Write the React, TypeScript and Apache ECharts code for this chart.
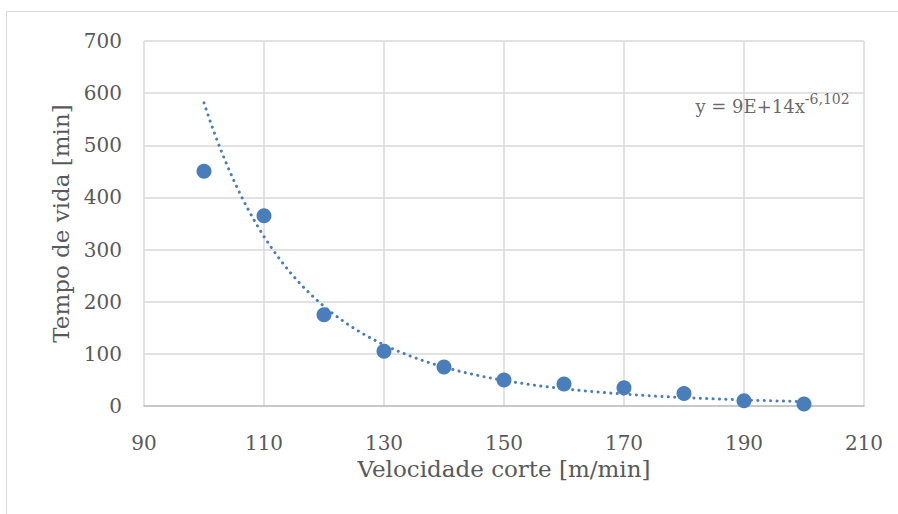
import React, { useEffect, useRef } from "react";
import * as echarts from "echarts";

// Cutting speed [m/min] and measured tool life [min]
const velocidade = [100, 110, 120, 130, 140, 150, 160, 170, 180, 190, 200];
const tempoVida = [450, 365, 175, 105, 75, 50, 42, 35, 24, 10, 4];

// Power trendline y = A * x^B (A shown rounded as 9E+14 in the label)
const trendA = 9.3e14;
const trendB = -6.102;
const trendLabel = "y = 9E+14x";
const trendExpLabel = "-6,102";

const xTicks = { min: 90, max: 210, interval: 20 };
const yTicks = { min: 0, max: 700, interval: 100 };

const FONT = "DejaVu Serif";
const BLUE = "#4a7ebb";

export default function App() {
  const ref = useRef<HTMLDivElement>(null);

  useEffect(() => {
    if (!ref.current) return;
    const chart = echarts.init(ref.current, undefined, { renderer: "svg" });

    const x0 = velocidade[0];
    const x1 = velocidade[velocidade.length - 1];
    const trend: [number, number][] = [];
    for (let x = x0; x <= x1; x += 0.5) {
      trend.push([x, trendA * Math.pow(x, trendB)]);
    }

    chart.setOption({
      animation: false,
      backgroundColor: "#ffffff",
      textStyle: { fontFamily: FONT },
      grid: { left: 144, right: 34, top: 41, bottom: 108 },
      graphic: [
        {
          type: "rect",
          shape: { x: 6.5, y: 11.5, width: 1000, height: 1000 },
          style: { fill: "none", stroke: "#d9d9d9", lineWidth: 1 },
          silent: true,
        },
      ],
      xAxis: {
        type: "value",
        min: xTicks.min,
        max: xTicks.max,
        interval: xTicks.interval,
        name: "Velocidade corte [m/min]",
        nameLocation: "middle",
        nameGap: 49,
        nameTextStyle: { fontFamily: FONT, fontSize: 23, color: "#595959" },
        axisLine: { show: true, lineStyle: { color: "#bfbfbf", width: 1.5 } },
        axisTick: { show: false },
        axisLabel: { fontFamily: FONT, fontSize: 20, color: "#595959", margin: 27 },
        splitLine: { show: true, lineStyle: { color: "#d9d9d9", width: 1.5 } },
      },
      yAxis: {
        type: "value",
        min: yTicks.min,
        max: yTicks.max,
        interval: yTicks.interval,
        name: "Tempo de vida [min]",
        nameLocation: "middle",
        nameGap: 70,
        nameTextStyle: { fontFamily: FONT, fontSize: 23, color: "#595959" },
        axisLine: { show: false },
        axisTick: { show: false },
        axisLabel: { fontFamily: FONT, fontSize: 20, color: "#595959", margin: 22 },
        splitLine: { show: true, lineStyle: { color: "#d9d9d9", width: 1.5 } },
      },
      series: [
        {
          type: "line",
          data: trend,
          showSymbol: false,
          symbol: "none",
          smooth: false,
          lineStyle: { color: BLUE, width: 3, type: [0.1, 6.3], cap: "round" },
          z: 2,
          silent: true,
        },
        {
          type: "scatter",
          data: velocidade.map((v, i) => [v, tempoVida[i]]),
          symbol: "circle",
          symbolSize: 15,
          itemStyle: { color: BLUE, opacity: 1 },
          z: 3,
        },
        {
          type: "scatter",
          data: [[194.75, 580]],
          symbolSize: 0,
          silent: true,
          label: {
            show: true,
            position: "inside",
            formatter: `{a|${trendLabel}}{b|${trendExpLabel}}`,
            rich: {
              a: { fontFamily: FONT, fontSize: 18, color: "#404040", verticalAlign: "bottom" },
              b: { fontFamily: FONT, fontSize: 14, color: "#404040", verticalAlign: "top", padding: [0, 0, 9, 0] },
            },
          },
        },
      ],
    });

    return () => chart.dispose();
  }, []);

  return (
    <div
      ref={ref}
      style={{ position: "fixed", left: 0, top: 0, width: 898, height: 514 }}
    />
  );
}
